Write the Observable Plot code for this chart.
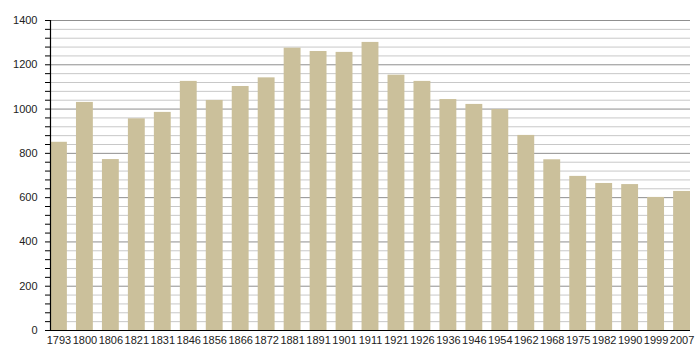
<!DOCTYPE html>
<html>
<head>
<meta charset="utf-8">
<script src="https://cdn.jsdelivr.net/npm/d3@7"></script>
<script src="https://cdn.jsdelivr.net/npm/@observablehq/plot@0.6"></script>
<style>
  html, body { margin: 0; padding: 0; background: #fff; }
  svg { display: block; }
</style>
</head>
<body>
<div id="chart"></div>
<script>
const years = ["1793","1800","1806","1821","1831","1846","1856","1866","1872","1881","1891","1901","1911","1921","1926","1936","1946","1954","1962","1968","1975","1982","1990","1999","2007"];
const population = [850,1030,772,956,985,1125,1039,1102,1141,1275,1260,1256,1301,1153,1125,1043,1021,998,881,771,696,664,659,601,628];
const majorTicks = [0,200,400,600,800,1000,1200,1400];
const minorTicks = d3.range(0, 1401, 40);

const data = years.map((y, i) => ({year: y, value: population[i]}));

const chart = Plot.plot({
  width: 700,
  height: 360,
  marginLeft: 50,
  marginRight: 10,
  marginTop: 20,
  marginBottom: 30,
  style: {fontFamily: "Liberation Sans, Arial, sans-serif", fontSize: "11px", color: "#222", background: "#fff"},
  x: {domain: years, paddingInner: 0.35, paddingOuter: 0, round: false, label: null},
  y: {domain: [0, 1400], label: null},
  marks: [
    Plot.ruleY(minorTicks.filter(d => d % 200 !== 0), {stroke: "#c8c8c8", strokeWidth: 1}),
    Plot.ruleY(majorTicks.filter(d => d > 0), {stroke: "#8f8f8f", strokeWidth: 1}),
    Plot.barY(data, {x: "year", y: "value", fill: "#cbc09b"}),
    Plot.axisY({ticks: minorTicks, tickSize: 5, tickPadding: 8, stroke: "#000",
      tickFormat: d => (d % 200 === 0 ? String(d) : ""), label: null, fill: "#222"}),
    Plot.frame({anchor: "left", stroke: "#000", strokeWidth: 1.2}),
    Plot.axisX({tickSize: 0, tickPadding: 6, label: null, fill: "#222", style: {letterSpacing: "-0.4px"}}),
    Plot.ruleY([0], {stroke: "#000", strokeWidth: 1.2})
  ]
});
document.getElementById("chart").appendChild(chart);
</script>
</body>
</html>
